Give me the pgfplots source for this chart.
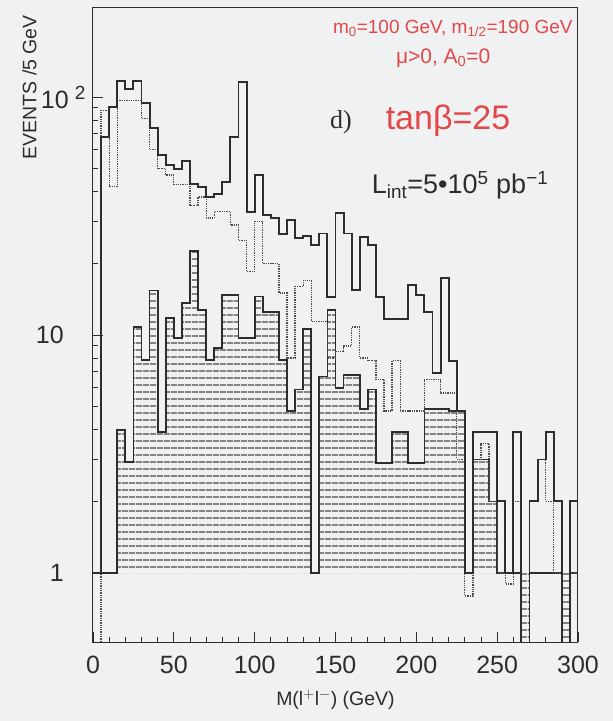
\documentclass[border=0pt]{standalone}
\usepackage{fontspec}
\setmainfont{Liberation Sans}
\newfontfamily\seriffont{Liberation Serif}
\usepackage{pgfplots}
\pgfplotsset{compat=1.18}
\usepackage{pgfplotstable}
\usetikzlibrary{patterns.meta,backgrounds}
\definecolor{bg}{RGB}{239,241,242}
\definecolor{annred}{RGB}{226,72,72}
\definecolor{ink}{RGB}{45,45,45}
\definecolor{hatch}{RGB}{75,75,75}

\pgfplotstableread{
x tot hat dot
0 1 1 0.1
5 68 1 88
10 91 1 42
15 117 4.0 97
20 108 2.93 97
25 117 10.8 97
30 94 7.85 81
35 74 15.4 60
40 57 3.9 50
45 52 11.8 47
50 50 9.7 43
55 54 13.6 43
60 43 22.5 35
65 42 12.7 38
70 38 7.85 31
75 39 8.8 33
80 44 14.7 33
85 68 14.7 29
90 116 9.7 25
95 33 9.7 18.5
100 47 14.5 30
105 32 12.5 20
110 31 12.5 20
115 26.5 7.85 15
120 30.4 4.8 8
125 25.5 5.9 16
130 26 10.6 17
135 23.9 1 11.4
140 26.7 6.7 11.4
145 14.5 12.7 8
150 32.5 6 8.5
155 26.7 6.8 9
160 15.5 6.8 10.8
165 25.9 4.9 8
170 23.9 5.9 7.8
175 14.5 2.9 6.5
180 11.7 2.9 4.8
185 11.7 3.9 7.8
190 11.7 3.9 4.8
195 16.2 2.9 4.8
200 14.7 2.9 4.8
205 12.5 4.9 6.5
210 6.9 4.9 6.5
215 17.3 4.9 5.7
220 7.8 4.8 5.7
225 4.8 4.8 3
230 1 1 0.8
235 3.9 3 3
240 3.9 3 3.5
245 3.9 2 2
250 2 1 1
255 1 1 0.9
260 3.9 1 2
265 0.1 0.1 0.1
270 2 1 2
275 3 1 3
280 3.9 1 2
285 2 1 1
290 0.1 0.1 0.1
295 2 1 1
300 2 1 1
}\hist

\begin{document}
\begin{tikzpicture}[show background rectangle,
  background rectangle/.style={fill=bg,draw=none}, inner frame sep=0pt]
\begin{axis}[
  name=ax,
  scale only axis, width=485pt, height=634pt,
  ymode=log, xmin=0, xmax=300, ymin=0.513, ymax=236.6,
  axis line style={ink, line width=1pt},
  tick pos=left, tick align=inside,
  tick style={ink, line width=0.8pt},
  major tick length=10pt, minor tick length=5pt,
  xtick={0,50,...,300}, minor x tick num=4,
  ytick={1,10,100},
  yticklabels={1,10,10\kern-5pt\rlap{\hspace{11pt}\raisebox{9pt}{\fontsize{19}{19}\selectfont 2}}},
  /pgf/number format/assume math mode=true,
  xticklabel style={font=\fontsize{25}{28}\selectfont, anchor=base, yshift=-31pt, text=ink},
  yticklabel style={font=\fontsize{25}{28}\selectfont, anchor=east, inner sep=0pt, xshift=-29pt, text=ink},
  xlabel={M(l$^{+}$l$^{-}$) (GeV)},
  xlabel style={at={(rel axis cs:0.5,-0.0915)}, anchor=center, font=\fontsize{19.5}{22}\selectfont, text=ink},
  ylabel={EVENTS /5 GeV},
  ylabel style={at={(rel axis cs:-0.131,0.875)}, anchor=center, font=\fontsize{19.5}{22}\selectfont, text=ink},
]
\addplot[const plot, draw=none, pattern={Lines[angle=0,distance=6.5pt,line width=1.4pt]}, pattern color=hatch] table[x=x,y=hat]{\hist} \closedcycle;
\addplot[const plot, ink, line width=1.7pt] table[x=x,y=hat]{\hist};
\addplot[const plot, ink!85, densely dotted, line width=1.3pt] table[x=x,y=dot]{\hist};
\addplot[const plot, ink, line width=1.9pt] table[x=x,y=tot]{\hist};

\node[text=annred, font=\fontsize{19}{21}\selectfont] at (rel axis cs:0.742,0.968) {m\textsubscript{0}=100 GeV, m\textsubscript{1/2}=190 GeV};
\node[text=annred, font=\fontsize{21}{23}\selectfont] at (rel axis cs:0.722,0.921) {μ>0, A\textsubscript{0}=0};
\node[text=ink, font=\fontsize{26}{28}\seriffont] at (rel axis cs:0.511,0.820) {d)};
\node[text=annred, font=\fontsize{34}{36}\selectfont] at (rel axis cs:0.732,0.823) {tanβ=25};
\node[text=ink, font=\fontsize{27}{30}\selectfont] at (rel axis cs:0.757,0.721) {L\textsubscript{int}=5•10\textsuperscript{5} pb\textsuperscript{−1}};
\end{axis}
\pgfresetboundingbox
\path ([xshift=-93pt,yshift=-79pt]ax.south west) rectangle ([xshift=35pt,yshift=8pt]ax.north east);
\end{tikzpicture}
\end{document}
